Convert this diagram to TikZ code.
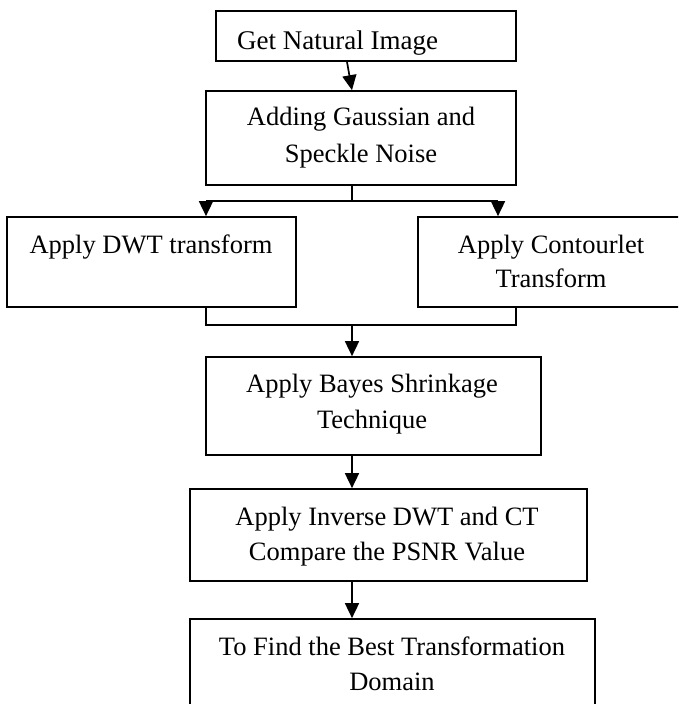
\documentclass[tikz,border=0pt]{standalone}
\usepackage{fontspec}
\setmainfont{Liberation Serif}
\usetikzlibrary{arrows.meta}
\begin{document}
\begin{tikzpicture}[x=1pt,y=-1pt,
  box/.style={draw, line width=1.7pt, inner sep=0pt},
  txt/.style={anchor=base, inner sep=0pt, font=\fontsize{26.5}{35}\selectfont},
  link/.style={line width=1.7pt},
  flow/.style={link, -{Triangle[width=14pt,length=15pt]}}]
\useasboundingbox (0,0) rectangle (678,704);
\clip (0,0) rectangle (678,704);

% process boxes
\node[box, minimum width=300pt, minimum height=50pt] (b1) at (366,36) {};
\node[box, minimum width=310pt, minimum height=94pt] (b2) at (361,138) {};
\node[box, minimum width=289pt, minimum height=90pt] (b3) at (151.5,262) {};
\node[box, minimum width=266pt, minimum height=90pt] (b4) at (551,262) {};
\node[box, minimum width=335pt, minimum height=98pt] (b5) at (373.5,406) {};
\node[box, minimum width=397pt, minimum height=92pt] (b6) at (388.5,535) {};
\node[box, minimum width=405pt, minimum height=111pt] (b7) at (392.5,674.5) {};

% box texts
\node[txt, anchor=base west, font=\fontsize{27}{35}\selectfont] (t1) at (237,49) {Get Natural Image};
\node[txt] (t2a) at (361,125) {Adding Gaussian and};
\node[txt] (t2b) at (361,162) {Speckle Noise};
\node[txt] (t3) at (151,253) {Apply DWT transform};
\node[txt] (t4a) at (551,253) {Apply Contourlet};
\node[txt] (t4b) at (551,287) {Transform};
\node[txt] (t5a) at (372,392) {Apply Bayes Shrinkage};
\node[txt] (t5b) at (372,428) {Technique};
\node[txt] (t6a) at (387,525) {Apply Inverse DWT and CT};
\node[txt] (t6b) at (387,560) {Compare the PSNR Value};
\node[txt] (t7a) at (392,655) {To Find the Best Transformation};
\node[txt] (t7b) at (392,690) {Domain};

% junction points
\coordinate (sp) at (352,201);
\coordinate (spL) at (206,201);
\coordinate (spR) at (498,201);
\coordinate (jL) at (206,325);
\coordinate (jR) at (516,325);
\coordinate (jm) at (352,325);

% connectors
\draw[flow] ([xshift=-19pt]b1.south) -- ([xshift=-9pt]b2.north);
\draw[link] (b2.south -| sp) -- (sp);
\draw[link] (spL) -- (spR);
\draw[flow] (spL) -- (spL |- b3.north);
\draw[flow] (spR) -- (spR |- b4.north);
\draw[link] (jL |- b3.south) -- (jL) -- (jR) -- (jR |- b4.south);
\draw[flow] (jm) -- (jm |- b5.north);
\draw[flow] (jm |- b5.south) -- (jm |- b6.north);
\draw[flow] (jm |- b6.south) -- (jm |- b7.north);
\end{tikzpicture}
\end{document}
